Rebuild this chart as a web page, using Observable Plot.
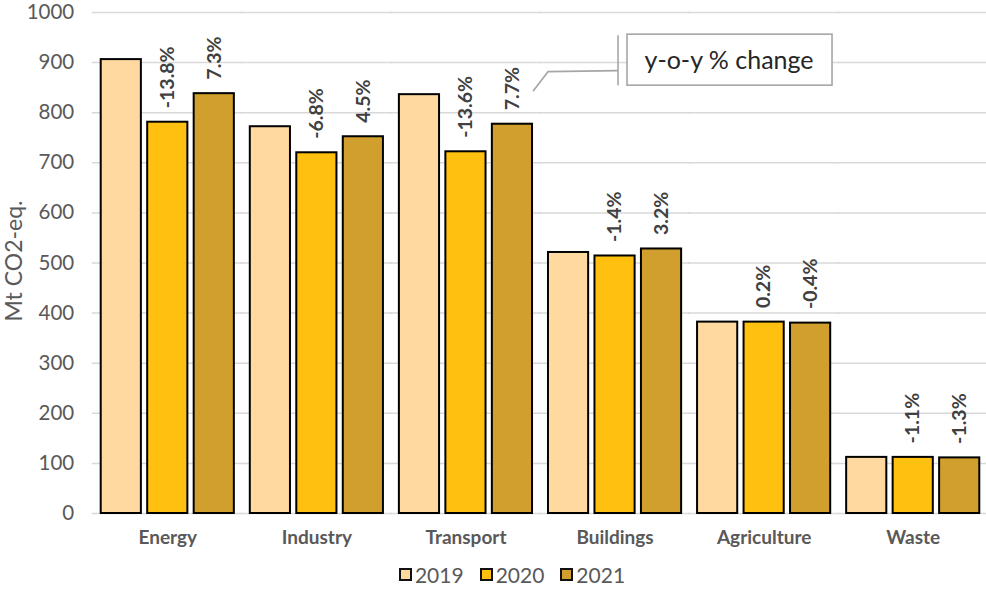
<!DOCTYPE html>
<html><head><meta charset="utf-8">
<script src="https://cdn.jsdelivr.net/npm/d3@7"></script>
<script src="https://cdn.jsdelivr.net/npm/@observablehq/plot@0.6"></script>
<style>
body{margin:0;background:#fff;font-family:Lato,"Open Sans",sans-serif;}
#chart{width:986px;}
.legend{display:flex;justify-content:center;align-items:center;height:29px;font-size:21px;color:#595959;padding-left:38px;}
.item{display:flex;align-items:center;margin:0 8px;}
.sw{width:9px;height:9px;border:2px solid #111;margin-right:3px;}
</style></head><body><div id="chart"></div>
<script>
const categories = ["Energy","Industry","Transport","Buildings","Agriculture","Waste"];
const years = ["2019","2020","2021"];
const v2019 = [906, 772, 836, 521, 382, 112];
const v2020 = [781, 720, 722, 514, 382, 112];
const v2021 = [838, 752, 777, 528, 380, 111];
const change2020 = ["-13.8%","-6.8%","-13.6%","-1.4%","0.2%","-1.1%"];
const change2021 = ["7.3%","4.5%","7.7%","3.2%","-0.4%","-1.3%"];
const yTicks = [0,100,200,300,400,500,600,700,800,900,1000];
const colors = ["#FFD99F","#FFC010","#D09F2D"];
const yLabel = "Mt CO2-eq.";
const callout = {cat:"Transport", year:"2021", value:842, text:"y-o-y % change"};

const rows = [];
categories.forEach((c,i)=>{
  rows.push({cat:c, year:"2019", value:v2019[i], label:null});
  rows.push({cat:c, year:"2020", value:v2020[i], label:change2020[i]});
  rows.push({cat:c, year:"2021", value:v2021[i], label:change2021[i]});
});

const plot = Plot.plot({
  width:986, height:560, marginLeft:94, marginRight:0, marginTop:12, marginBottom:47,
  style:{fontFamily:"Lato, sans-serif", background:"#fff", overflow:"visible"},
  fx:{domain:categories, paddingInner:0.107, paddingOuter:0.045, round:false, label:null},
  x:{domain:years, paddingInner:0.136, paddingOuter:0, round:false, axis:null},
  y:{domain:[0,1000], label:null},
  color:{domain:years, range:colors},
  marks:[
    Plot.ruleY(yTicks, {stroke:"#d9d9d9", strokeWidth:1.5, insetLeft:-9, insetRight:-9}),
    Plot.axisY(yTicks, {tickSize:0, tickPadding:27, fontSize:20.5, fill:"#595959", tickFormat:d=>String(d), label:null}),
    Plot.axisFx({anchor:"bottom", tickSize:0, tickPadding:17, fontSize:19, fontWeight:"bold", fill:"#595959", label:null}),
    Plot.barY(rows, {fx:"cat", x:"year", y:"value", fill:"year", stroke:"#000", strokeWidth:2}),
    Plot.text(rows.filter(d=>d.label), {fx:"cat", x:"year", y:"value", text:"label", rotate:-90, textAnchor:"start", lineAnchor:"middle", dy:-14, fontSize:19.5, fontWeight:"bold", fill:"#404040"})
  ]
});

const chart = document.getElementById("chart");
chart.appendChild(plot);
const svgEl = plot.tagName.toLowerCase() === "svg" ? plot : plot.querySelector("svg");
const svg = d3.select(svgEl);
const yS = plot.scale("y"), fxS = plot.scale("fx"), xS = plot.scale("x");

// y label
svg.append("text")
  .attr("transform", `translate(22,${yS.apply(503)}) rotate(-90)`)
  .attr("text-anchor","middle").attr("font-size",23).attr("fill","#595959")
  .attr("font-family","Lato, sans-serif").text(yLabel);

// callout
const left = fxS.apply(callout.cat) + (xS.apply(callout.year) - xS.range[0]);
const ax = left + xS.bandwidth + 1, ay = yS.apply(callout.value);
const g = svg.append("g").attr("stroke","#a6a6a6").attr("fill","none").attr("stroke-width",1.6);
g.append("polyline").attr("points", `${ax},${ay} ${ax+15},${ay-19.5} ${ax+85},${ay-20.5}`);
g.append("line").attr("x1",ax+85).attr("x2",ax+85).attr("y1",ay-56).attr("y2",ay-6);
g.append("rect").attr("x",ax+94).attr("y",ay-57).attr("width",205).attr("height",51).attr("fill","#fff");
svg.append("text").attr("x",ax+196).attr("y",ay-31).attr("dy","0.35em")
  .attr("text-anchor","middle").attr("font-size",25).attr("fill","#262626")
  .attr("font-family","Lato, sans-serif").text(callout.text);

// legend
const lg = document.createElement("div");
lg.className = "legend";
years.forEach((yr,i)=>{
  const it = document.createElement("div"); it.className="item";
  const sw = document.createElement("div"); sw.className="sw"; sw.style.background = colors[i];
  const t = document.createElement("span"); t.textContent = yr;
  it.appendChild(sw); it.appendChild(t); lg.appendChild(it);
});
chart.appendChild(lg);
</script></body></html>
